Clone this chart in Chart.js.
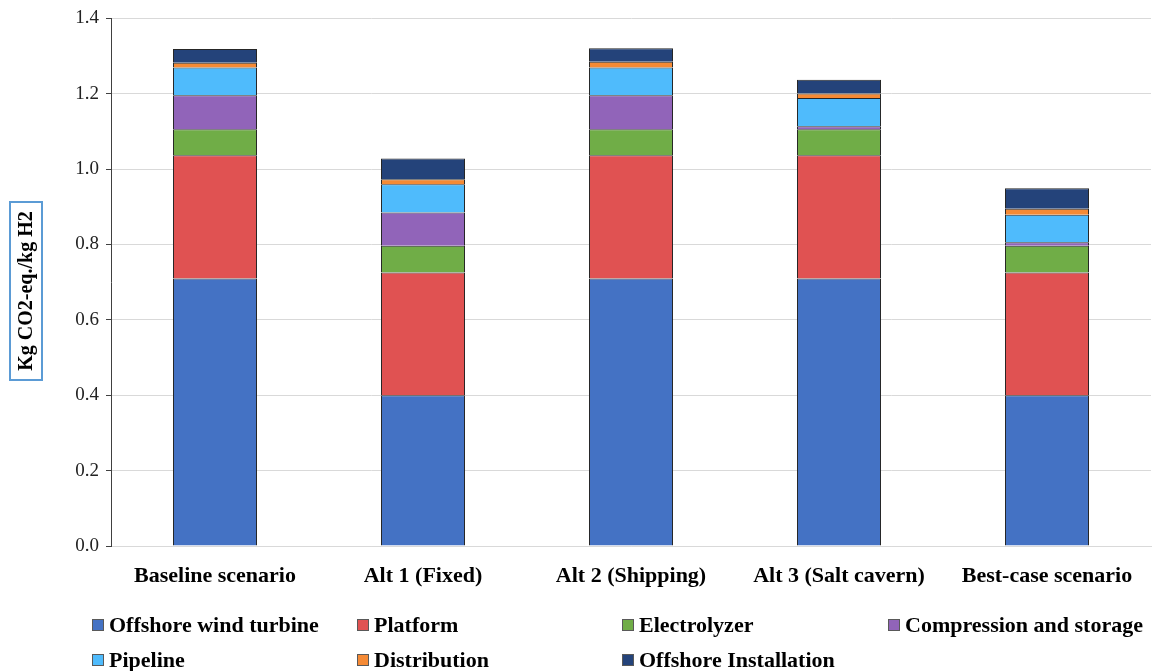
<!DOCTYPE html>
<html><head><meta charset="utf-8">
<script src="https://cdn.jsdelivr.net/npm/chart.js@4/dist/chart.umd.min.js"></script>
<style>html,body{margin:0;padding:0;background:#fff}#wrap{width:1155px;height:671px}</style>
</head><body><div id="wrap"><canvas id="c" width="1155" height="671"></canvas></div>
<script>
const categories = ["Baseline scenario","Alt 1 (Fixed)","Alt 2 (Shipping)","Alt 3 (Salt cavern)","Best-case scenario"];
const seriesNames = ["Offshore wind turbine","Platform","Electrolyzer","Compression and storage","Pipeline","Distribution","Offshore Installation"];
const windTurbine = [0.710,0.400,0.710,0.710,0.400];
const platform    = [0.327,0.326,0.327,0.327,0.326];
const electrolyzer= [0.069,0.071,0.069,0.069,0.071];
const compression = [0.090,0.088,0.090,0.008,0.009];
const pipeline    = [0.074,0.075,0.074,0.075,0.073];
const distribution= [0.012,0.013,0.015,0.012,0.016];
const installation= [0.037,0.055,0.036,0.036,0.054];
const yTicks = [0,0.2,0.4,0.6,0.8,1.0,1.2,1.4];
const colors = ["#4472C4","#E05252","#70AD47","#9164B9","#4FBBFC","#F58A35","#24437A"];
const values = [windTurbine,platform,electrolyzer,compression,pipeline,distribution,installation];

const SERIF = '"Liberation Serif","Times New Roman",serif';

const legendPlugin = {
  id:'customLegend',
  afterDraw(chart){
    const ctx = chart.ctx;
    ctx.save();
    const cols=[92,357,622,888], rows=[625,660];
    ctx.font = 'bold 22px '+SERIF;
    ctx.textBaseline='middle'; ctx.textAlign='left';
    seriesNames.forEach((n,i)=>{
      const x=cols[i%4], y=rows[Math.floor(i/4)];
      ctx.fillStyle=colors[i];
      ctx.fillRect(x,y-6,12,12);
      ctx.strokeStyle='#595959'; ctx.lineWidth=1;
      ctx.strokeRect(x+0.5,y-5.5,11,11);
      ctx.fillStyle='#000';
      ctx.fillText(n,x+17,y+1);
    });
    ctx.translate(26,291);
    ctx.rotate(-Math.PI/2);
    ctx.font='bold 20px '+SERIF;
    ctx.textAlign='center';
    ctx.fillStyle='#000';
    ctx.fillText('Kg CO2-eq./kg H2',0,1);
    ctx.strokeStyle='#5B9BD5'; ctx.lineWidth=2;
    ctx.strokeRect(-89,-16,178,32);
    ctx.restore();
  }
};

new Chart(document.getElementById('c'),{
  type:'bar',
  data:{
    labels:categories,
    datasets:seriesNames.map((n,i)=>({
      label:n, data:values[i], backgroundColor:colors[i],
      borderColor:'#262626', borderWidth:1,
      barPercentage:0.404, categoryPercentage:1
    }))
  },
  options:{
    responsive:false, animation:false,
    layout:{padding:{top:16,right:4,left:0,bottom:0}},
    plugins:{legend:{display:false},tooltip:{enabled:false}},
    scales:{
      x:{stacked:true,
        grid:{display:false},
        border:{color:'#d9d9d9'},
        ticks:{font:{family:SERIF,size:22,weight:'bold'},color:'#000',padding:9,maxRotation:0},
        afterFit(s){s.height=125;}
      },
      y:{stacked:true,min:0,max:1.4,
        afterBuildTicks(s){s.ticks=yTicks.map(v=>({value:v}));},
        grid:{color:'#d9d9d9',tickColor:'#404040',tickLength:5},
        border:{color:'#404040'},
        ticks:{font:{family:SERIF,size:19},color:'#222',padding:7,callback:v=>v.toFixed(1)},
        afterFit(s){s.width=111;}
      }
    }
  },
  plugins:[legendPlugin]
});
</script></body></html>
